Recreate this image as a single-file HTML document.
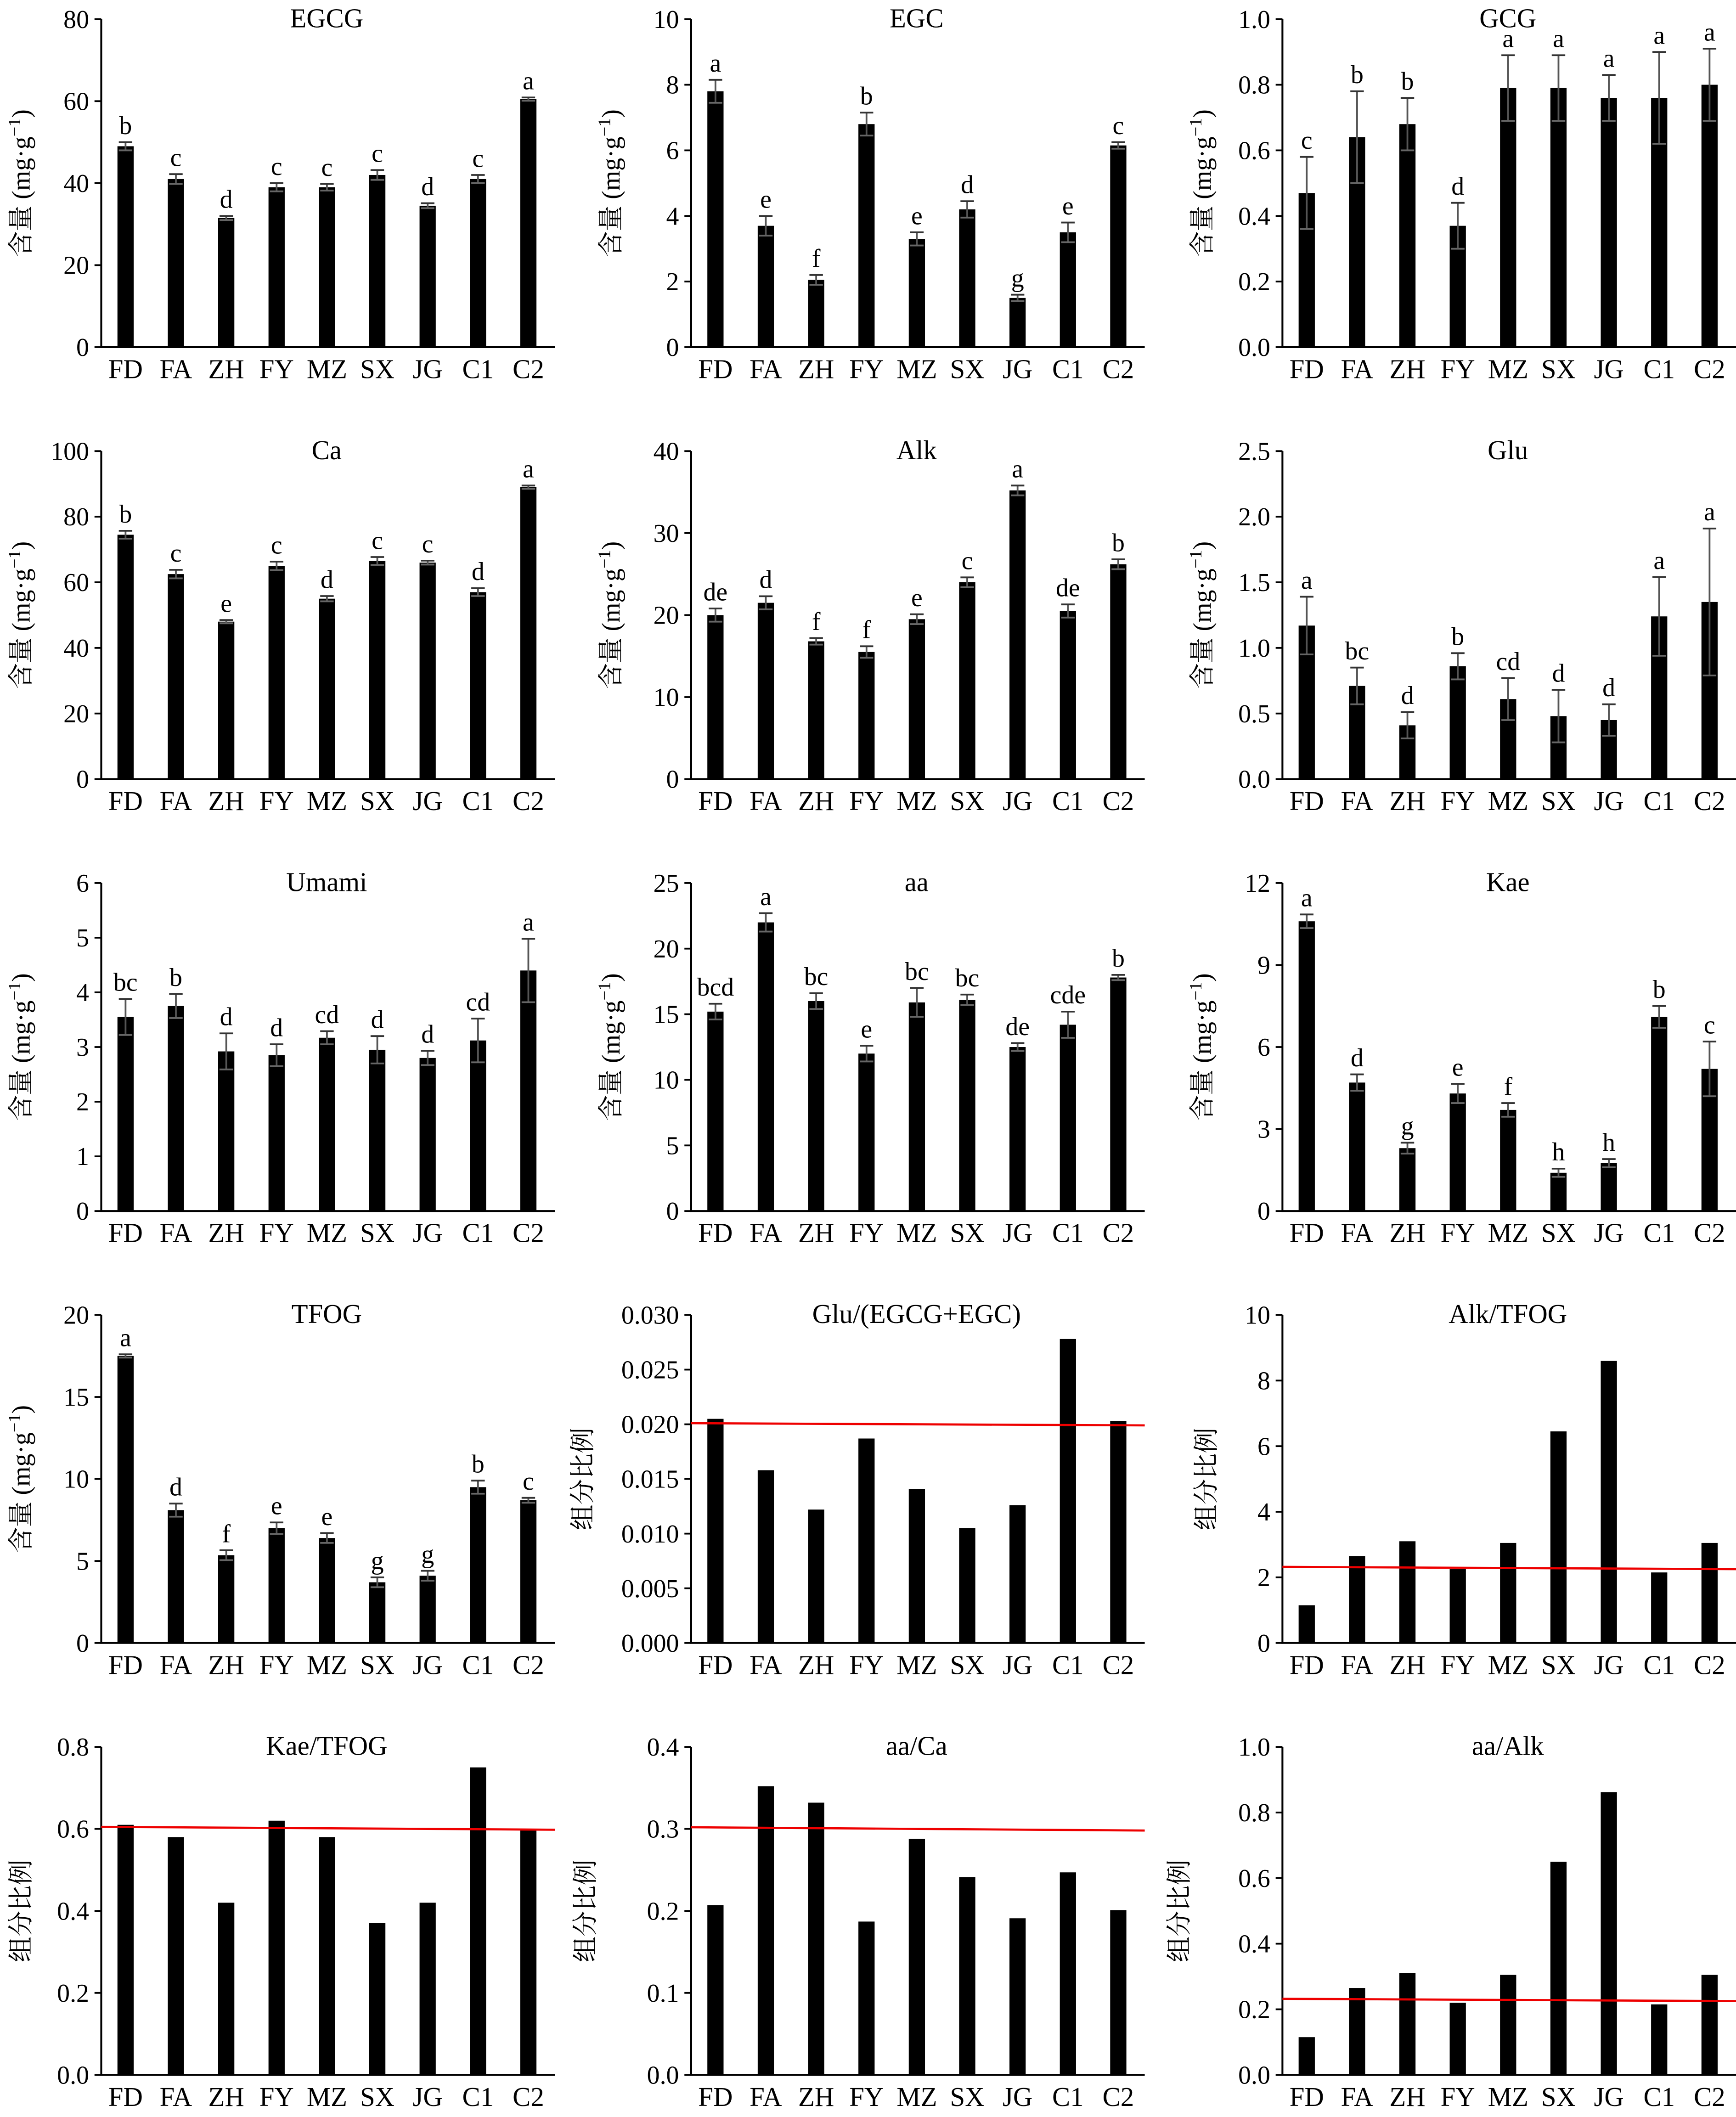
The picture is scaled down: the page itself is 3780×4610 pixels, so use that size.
<!DOCTYPE html>
<html><head><meta charset="utf-8"><style>
html,body{margin:0;padding:0;background:#fff;}
svg{display:block;}
text{font-family:"Liberation Serif","Noto Serif CJK SC",serif;fill:#000;}
</style></head><body>
<svg id="chart" xmlns="http://www.w3.org/2000/svg" width="3780" height="4610" viewBox="0 0 1286 1568"></svg>
<script>
const categories = ["FD","FA","ZH","FY","MZ","SX","JG","C1","C2"];
const titles = ["EGCG","EGC","GCG","Ca","Alk","Glu","Umami","aa","Kae","TFOG","Glu/(EGCG+EGC)","Alk/TFOG","Kae/TFOG","aa/Ca","aa/Alk"];
const yMax = [80,10,1,100,40,2.5,6,25,12,20,0.03,10,0.8,0.4,1];
const yStep = [20,2,0.2,20,10,0.5,1,5,3,5,0.005,2,0.2,0.1,0.2];
const tickDecimals = [0,0,1,0,0,1,0,0,0,0,3,0,1,1,1];
const valEGCG = [49,41,31.5,39,39,42,34.5,41,60.5];
const valEGC = [7.8,3.7,2.05,6.8,3.3,4.2,1.5,3.5,6.15];
const valGCG = [0.47,0.64,0.68,0.37,0.79,0.79,0.76,0.76,0.80];
const valCa = [74.5,62.5,48,65,55,66.5,66,57,89];
const valAlk = [20,21.5,16.8,15.5,19.5,24,35.2,20.5,26.2];
const valGlu = [1.17,0.71,0.41,0.86,0.61,0.48,0.45,1.24,1.35];
const valUmami = [3.55,3.75,2.92,2.85,3.17,2.95,2.8,3.12,4.4];
const valAa = [15.2,22,16,12,15.9,16.1,12.5,14.2,17.8];
const valKae = [10.6,4.7,2.3,4.3,3.7,1.4,1.75,7.1,5.2];
const valTFOG = [17.5,8.1,5.35,7,6.4,3.7,4.1,9.5,8.7];
const valR1 = [0.0205,0.0158,0.0122,0.0187,0.0141,0.0105,0.0126,0.0278,0.0203];
const valR2 = [1.15,2.65,3.1,2.25,3.05,6.45,8.6,2.15,3.05];
const valR3 = [0.61,0.58,0.42,0.62,0.58,0.37,0.42,0.75,0.6];
const valR4 = [0.207,0.352,0.332,0.187,0.288,0.241,0.191,0.247,0.201];
const valR5 = [0.115,0.265,0.31,0.22,0.305,0.65,0.862,0.215,0.305];
const errEGCG = [1,1.2,0.5,1,0.8,1.2,0.6,1,0.4];
const errEGC = [0.35,0.3,0.15,0.35,0.2,0.25,0.1,0.3,0.1];
const errGCG = [0.11,0.14,0.08,0.07,0.1,0.1,0.07,0.14,0.11];
const errCa = [1.2,1.3,0.5,1.3,0.8,1.2,0.6,1.2,0.5];
const errAlk = [0.8,0.8,0.4,0.7,0.6,0.6,0.6,0.8,0.6];
const errGlu = [0.22,0.14,0.1,0.1,0.16,0.2,0.12,0.3,0.56];
const errUmami = [0.33,0.22,0.33,0.2,0.12,0.25,0.13,0.4,0.58];
const errAa = [0.6,0.7,0.6,0.6,1.1,0.4,0.3,1,0.2];
const errKae = [0.25,0.3,0.2,0.35,0.25,0.15,0.15,0.4,1.0];
const errTFOG = [0.1,0.4,0.3,0.35,0.3,0.3,0.3,0.4,0.15];
const letEGCG = ["b","c","d","c","c","c","d","c","a"];
const letEGC = ["a","e","f","b","e","d","g","e","c"];
const letGCG = ["c","b","b","d","a","a","a","a","a"];
const letCa = ["b","c","e","c","d","c","c","d","a"];
const letAlk = ["de","d","f","f","e","c","a","de","b"];
const letGlu = ["a","bc","d","b","cd","d","d","a","a"];
const letUmami = ["bc","b","d","d","cd","d","d","cd","a"];
const letAa = ["bcd","a","bc","e","bc","bc","de","cde","b"];
const letKae = ["a","d","g","e","f","h","h","b","c"];
const letTFOG = ["a","d","f","e","e","g","g","b","c"];
const refLineStart = [0.0201,2.32,0.605,0.302,0.232];
const refLineEnd = [0.0199,2.25,0.598,0.298,0.225];

const values=[valEGCG,valEGC,valGCG,valCa,valAlk,valGlu,valUmami,valAa,valKae,valTFOG,valR1,valR2,valR3,valR4,valR5];
const errors=[errEGCG,errEGC,errGCG,errCa,errAlk,errGlu,errUmami,errAa,errKae,errTFOG,null,null,null,null,null];
const letters=[letEGCG,letEGC,letGCG,letCa,letAlk,letGlu,letUmami,letAa,letKae,letTFOG,null,null,null,null,null];
const yTitleOffset=[53,53,53,53,53,53,53,53,53,53,74,50,53,72,70];

const svg=document.getElementById('chart');
const NS='http://www.w3.org/2000/svg';
function mk(tag,attrs,parent,txt){const e=document.createElementNS(NS,tag);for(const k in attrs)e.setAttribute(k,attrs[k]);if(txt!==undefined)e.textContent=txt;parent.appendChild(e);return e;}

const colX=[75,512,950], rowB=[257,577,897,1217,1537], plotH=243, plotW=336;
for(let p=0;p<15;p++){
  const c=p%3,r=Math.floor(p/3);
  const x0=colX[c], yb=rowB[r];
  const g=mk('g',{},svg);
  
  
  const ys=v=>yb-v/yMax[p]*plotH;
  const xs=i=>x0+18+i*37.3;
  const ax=mk('path',{d:`M${x0},${yb-plotH}V${yb}H${x0+plotW}`,stroke:'#000','stroke-width':1.4,fill:'none'},g);
  
  
  const n=Math.round(yMax[p]/yStep[p]);
  for(let k=0;k<=n;k++){
    const v=k*yStep[p], y=ys(v);
    mk('line',{x1:x0-5,x2:x0,y1:y,y2:y,stroke:'#000','stroke-width':1.3},g);
    const t=mk('text',{x:x0-9,y:y+6.5,'text-anchor':'end','font-size':19},g,v.toFixed(tickDecimals[p]));
    
    
  }
  const tt=mk('text',{x:x0+167,y:yb-plotH+6,'text-anchor':'middle','font-size':20},g,titles[p]);
  
  
  const yl=mk('text',{transform:`translate(${x0-yTitleOffset[p]},${yb-plotH/2}) rotate(-90)`,'text-anchor':'middle','font-size':19},g,p<10?'含量 (mg·g⁻¹)':'组分比例');
  if(p<10){yl.textContent='';mk('tspan',{},yl,'含量 (mg·g');mk('tspan',{dy:-7,'font-size':13},yl,'−1');mk('tspan',{dy:7},yl,')');}
  
  
  values[p].forEach((v,i)=>{
    const cx=xs(i);
    const b=mk('rect',{x:cx-6,y:ys(v),width:12,height:yb-ys(v),fill:'#000'},g);
    
    
    let top=ys(v);
    if(errors[p]){
      const e=errors[p][i], yt=ys(v+e), ybt=ys(v-e);
      mk('line',{x1:cx,x2:cx,y1:yt,y2:ybt,stroke:'#555','stroke-width':1.3},g);
      mk('line',{x1:cx-5,x2:cx+5,y1:yt,y2:yt,stroke:'#333','stroke-width':1.3},g);
      mk('line',{x1:cx-5,x2:cx+5,y1:ybt,y2:ybt,stroke:'#666','stroke-width':1.3},g);
      top=yt;
    }
    if(letters[p]){
      const lt=mk('text',{x:cx,y:top-6,'text-anchor':'middle','font-size':19},g,letters[p][i]);
      
      
    }
    const cl=mk('text',{x:cx,y:yb+23,'text-anchor':'middle','font-size':20},g,categories[i]);
    
    
  });
  if(p>=10){
    const q=p-10;
    const rl=mk('line',{x1:x0,x2:x0+plotW,y1:ys(refLineStart[q]),y2:ys(refLineEnd[q]),stroke:'#e00','stroke-width':1.6},g);
    
    
  }
}
</script>
</body></html>
